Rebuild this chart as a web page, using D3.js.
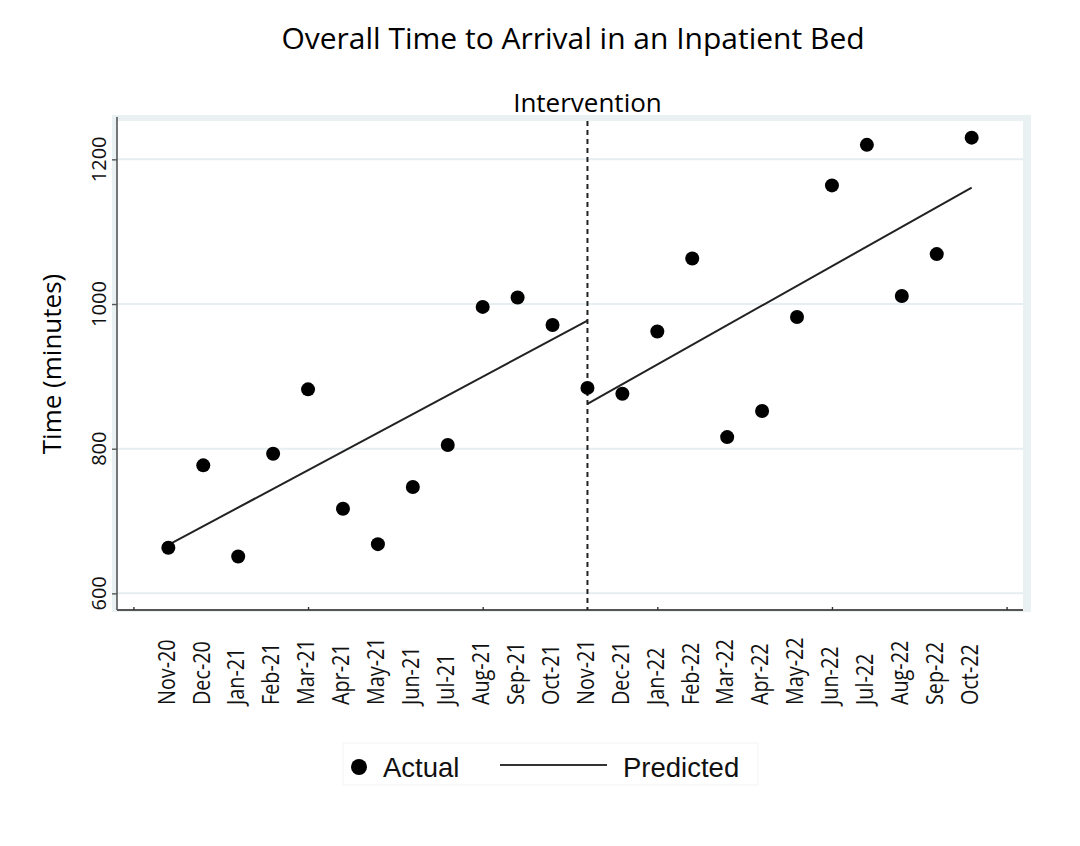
<!DOCTYPE html>
<html>
<head>
<meta charset="utf-8">
<script src="https://cdn.jsdelivr.net/npm/d3@7"></script>
<style>
  body { margin: 0; background: #fff; }
</style>
</head>
<body>
<svg></svg>
<script>
const w = 1080;
const h = 846;

// data
const months = ['Nov-20', 'Dec-20', 'Jan-21', 'Feb-21', 'Mar-21', 'Apr-21', 'May-21', 'Jun-21',
    'Jul-21', 'Aug-21', 'Sep-21', 'Oct-21', 'Nov-21', 'Dec-21', 'Jan-22', 'Feb-22',
    'Mar-22', 'Apr-22', 'May-22', 'Jun-22', 'Jul-22', 'Aug-22', 'Sep-22', 'Oct-22'];
const actual = [663, 777, 651, 793, 882, 717, 668, 747, 805, 996, 1009, 971,
    884, 876, 962, 1063, 816, 852, 982, 1164, 1220, 1011, 1069, 1230];
const predictedPreMonths = ['Nov-20', 'Nov-21'];
const predictedPre = [667, 977];
const predictedPostMonths = ['Nov-21', 'Oct-22'];
const predictedPost = [862, 1161];
const interventionMonth = 'Nov-21';
const yTicks = [600, 800, 1000, 1200];
const xTicks = [0, 5, 10, 15, 20, 25]; // period numbers, Nov-20 = 1

const margin = { left: 117, right: 1023, top: 121, bottom: 610 };

const svg = d3.select('svg').attr('width', w).attr('height', h);

// period number of a month label
const period = (m) => months.indexOf(m) + 1;

const xScale = d3.scaleLinear()
    .domain([-0.47, 25.47])
    .range([margin.left, margin.right]);
const yScale = d3.scaleLinear()
    .domain([577, 1253])
    .range([margin.bottom, margin.top]);

// light plot region frame
svg.append('rect')
    .attr('x', margin.left - 5)
    .attr('y', margin.top - 6)
    .attr('width', margin.right - margin.left + 13)
    .attr('height', margin.bottom - margin.top + 8)
    .attr('fill', '#eaf1f3');
svg.append('rect')
    .attr('x', margin.left)
    .attr('y', margin.top)
    .attr('width', margin.right - margin.left)
    .attr('height', margin.bottom - margin.top)
    .attr('fill', '#fff');

// gridlines
svg.append('g')
    .selectAll('line')
    .data(yTicks)
    .enter()
    .append('line')
    .attr('x1', margin.left)
    .attr('x2', margin.right)
    .attr('y1', (d) => yScale(d))
    .attr('y2', (d) => yScale(d))
    .attr('stroke', '#e6eef1')
    .attr('stroke-width', 2);

// axes
const yAxis = d3.axisLeft(yScale).tickValues(yTicks).tickSize(5).tickFormat('');
const xAxis = d3.axisBottom(xScale).tickValues(xTicks).tickSize(-3).tickFormat('');

const gy = svg.append('g')
    .attr('transform', 'translate(' + margin.left + ',0)')
    .call(yAxis);
gy.select('.domain').attr('d', 'M0,' + (margin.top - 4) + 'V' + margin.bottom)
    .attr('stroke', '#555').attr('stroke-width', 1.6);
gy.selectAll('.tick line').attr('stroke', '#555').attr('stroke-width', 1.4);

const gx = svg.append('g')
    .attr('transform', 'translate(0,' + margin.bottom + ')')
    .call(xAxis);
gx.select('.domain').attr('d', 'M' + margin.left + ',0H' + margin.right)
    .attr('stroke', '#555').attr('stroke-width', 1.8);
gx.selectAll('.tick line').attr('stroke', '#333').attr('stroke-width', 1.4);

// y tick labels (rotated)
svg.append('g')
    .selectAll('text')
    .data(yTicks)
    .enter()
    .append('text')
    .attr('transform', (d) => 'translate(106,' + yScale(d) + ') rotate(-90)')
    .attr('text-anchor', 'middle')
    .attr('font-family', 'Open Sans')
    .attr('font-size', 20)
    .attr('fill', '#111')
    .text((d) => d);

// month labels
svg.append('g')
    .selectAll('text')
    .data(months)
    .enter()
    .append('text')
    .attr('transform', (d) => 'translate(' + (xScale(period(d)) - 2) + ',705) rotate(-90) scale(0.86,1)')
    .attr('dy', '0.36em')
    .attr('text-anchor', 'start')
    .attr('font-family', 'Open Sans')
    .attr('font-size', 23)
    .attr('fill', '#111')
    .text((d) => d);

// intervention line
const xi = xScale(period(interventionMonth));
svg.append('line')
    .attr('x1', xi)
    .attr('x2', xi)
    .attr('y1', margin.top)
    .attr('y2', margin.bottom)
    .attr('stroke', '#222')
    .attr('stroke-width', 2)
    .attr('stroke-dasharray', '5,4');
svg.append('text')
    .attr('x', xi)
    .attr('y', 112)
    .attr('text-anchor', 'middle')
    .attr('font-family', 'Open Sans')
    .attr('font-size', 26)
    .attr('fill', '#000')
    .text('Intervention');

// predicted lines
const line = d3.line()
    .x((d) => xScale(period(d[0])))
    .y((d) => yScale(d[1]));
[d3.zip(predictedPreMonths, predictedPre), d3.zip(predictedPostMonths, predictedPost)]
    .forEach((seg) => {
        svg.append('path')
            .attr('d', line(seg))
            .attr('fill', 'none')
            .attr('stroke', '#222')
            .attr('stroke-width', 2);
    });

// actual points
svg.append('g')
    .selectAll('circle')
    .data(actual)
    .enter()
    .append('circle')
    .attr('cx', (d, i) => xScale(i + 1))
    .attr('cy', (d) => yScale(d))
    .attr('r', 7)
    .attr('fill', '#000');

// titles
svg.append('text')
    .attr('x', 573)
    .attr('y', 49)
    .attr('text-anchor', 'middle')
    .attr('font-family', 'Open Sans')
    .attr('font-size', 30)
    .attr('fill', '#000')
    .text('Overall Time to Arrival in an Inpatient Bed');

svg.append('text')
    .attr('transform', 'translate(61,364) rotate(-90)')
    .attr('text-anchor', 'middle')
    .attr('font-family', 'Open Sans')
    .attr('font-size', 26)
    .attr('fill', '#000')
    .text('Time (minutes)');

// legend
const lg = svg.append('g');
lg.append('rect')
    .attr('x', 343)
    .attr('y', 743)
    .attr('width', 415)
    .attr('height', 42)
    .attr('fill', 'none')
    .attr('stroke', '#f3f3f3');
lg.append('circle')
    .attr('cx', 359)
    .attr('cy', 767)
    .attr('r', 8)
    .attr('fill', '#000');
lg.append('text')
    .attr('x', 383)
    .attr('y', 777)
    .attr('font-family', 'Liberation Sans')
    .attr('font-size', 27.5)
    .attr('fill', '#111')
    .text('Actual');
lg.append('line')
    .attr('x1', 500)
    .attr('x2', 607)
    .attr('y1', 765)
    .attr('y2', 765)
    .attr('stroke', '#333')
    .attr('stroke-width', 2);
lg.append('text')
    .attr('x', 623)
    .attr('y', 777)
    .attr('font-family', 'Liberation Sans')
    .attr('font-size', 27.5)
    .attr('fill', '#111')
    .text('Predicted');
</script>
</body>
</html>
